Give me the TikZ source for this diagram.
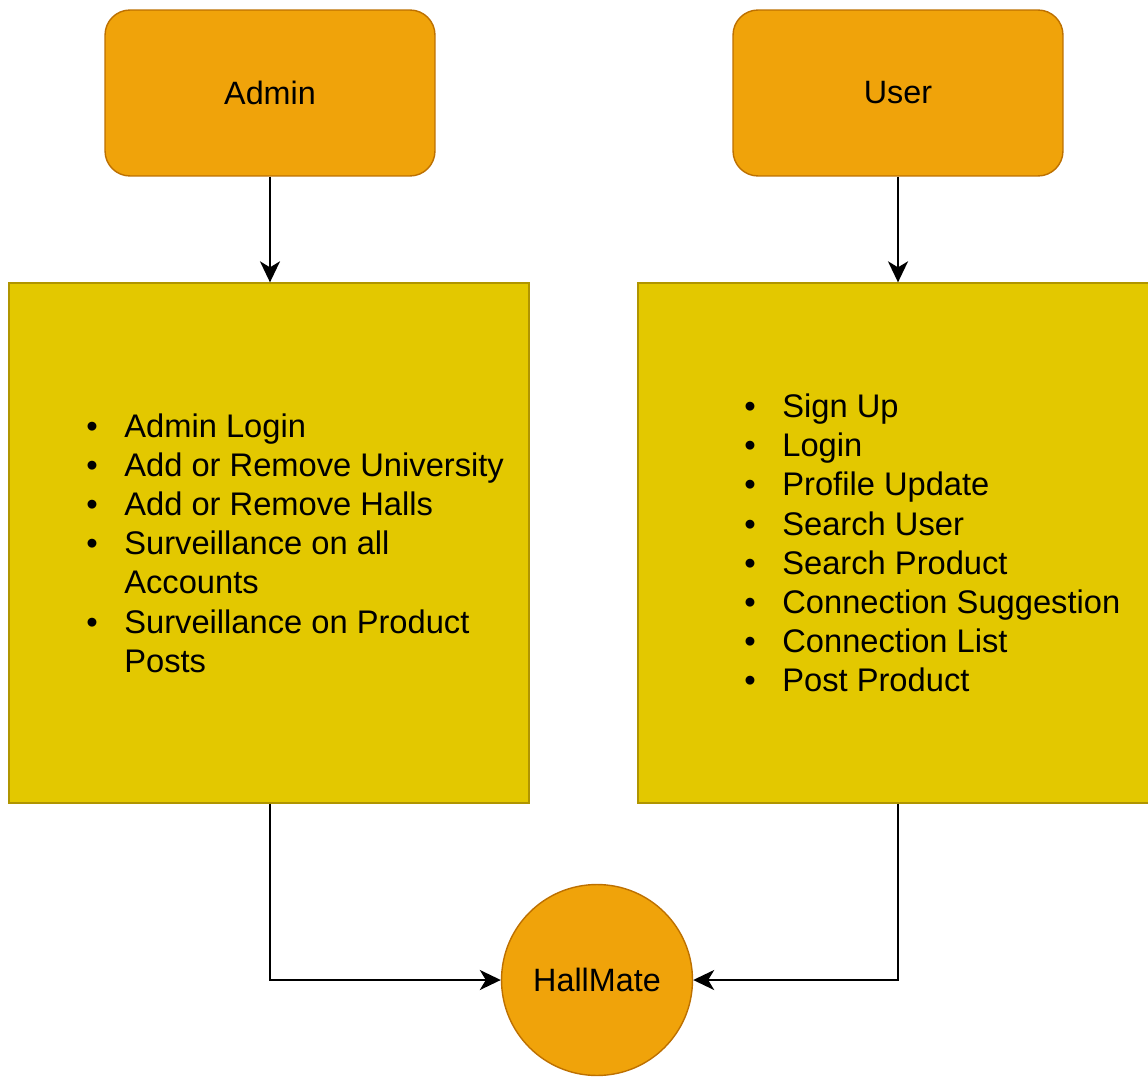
\documentclass[tikz,border=0pt]{standalone}
\usepackage{fontspec}
\setmainfont{Liberation Sans}
\usetikzlibrary{arrows.meta}
\definecolor{actorfill}{HTML}{F0A30A}
\definecolor{actorline}{HTML}{BD7000}
\definecolor{panelfill}{HTML}{E3C800}
\definecolor{panelline}{HTML}{B09500}
\newcommand{\itm}[1]{\makebox[0.78cm][l]{\hspace*{0.02cm}\textbullet}#1}
\newcommand{\cont}[1]{\hspace*{0.78cm}#1}
\begin{document}
\begin{tikzpicture}[x=0.02cm,y=-0.02cm,
  actor/.style={draw=actorline,fill=actorfill,line width=0.8pt,rounded corners=0.5cm,
    minimum width=6.6cm,minimum height=3.32cm,inner sep=0pt},
  panel/.style={draw=panelline,fill=panelfill,line width=0.8pt,
    minimum width=10.4cm,minimum height=10.4cm,inner sep=0pt},
  hub/.style={circle,draw=actorline,fill=actorfill,line width=0.8pt,
    minimum size=3.82cm,inner sep=0pt},
  lst/.style={align=left,inner sep=0pt,anchor=west,
    font=\fontsize{18.6}{22.3}\selectfont},
  flow/.style={line width=1.3pt,draw=black,
    -{Stealth[length=0.42cm,width=0.4cm,inset=0.12cm]}},
  font=\fontsize{18.4}{22.3}\selectfont]
\useasboundingbox (0,0) rectangle (1148,1077);
% actors
\node[actor] (admin) at (270,93) {Admin};
\node[actor] (user) at (898,93) {User};
% feature panels
\node[panel] (apanel) at (269,543) {};
\node[panel] (upanel) at (898,543) {};
\node[lst] (alist) at (85,543) {\itm{Admin Login}\\
  \itm{Add or Remove University}\\
  \itm{Add or Remove Halls}\\
  \itm{Surveillance on all}\\
  \cont{Accounts}\\
  \itm{Surveillance on Product}\\
  \cont{Posts}};
\node[lst] (ulist) at (743,543) {\itm{Sign Up}\\
  \itm{Login}\\
  \itm{Profile Update}\\
  \itm{Search User}\\
  \itm{Search Product}\\
  \itm{Connection Suggestion}\\
  \itm{Connection List}\\
  \itm{Post Product}};
% system
\node[hub] (hall) at (597,980) {HallMate};
% connectors
\draw[flow] (admin.south) -- (admin.south |- apanel.north);
\draw[flow] (user.south) -- (user.south |- upanel.north);
\draw[flow] (admin.south |- apanel.south) |- (hall.west);
\draw[flow] (upanel.south) |- (hall.east);
\end{tikzpicture}
\end{document}
